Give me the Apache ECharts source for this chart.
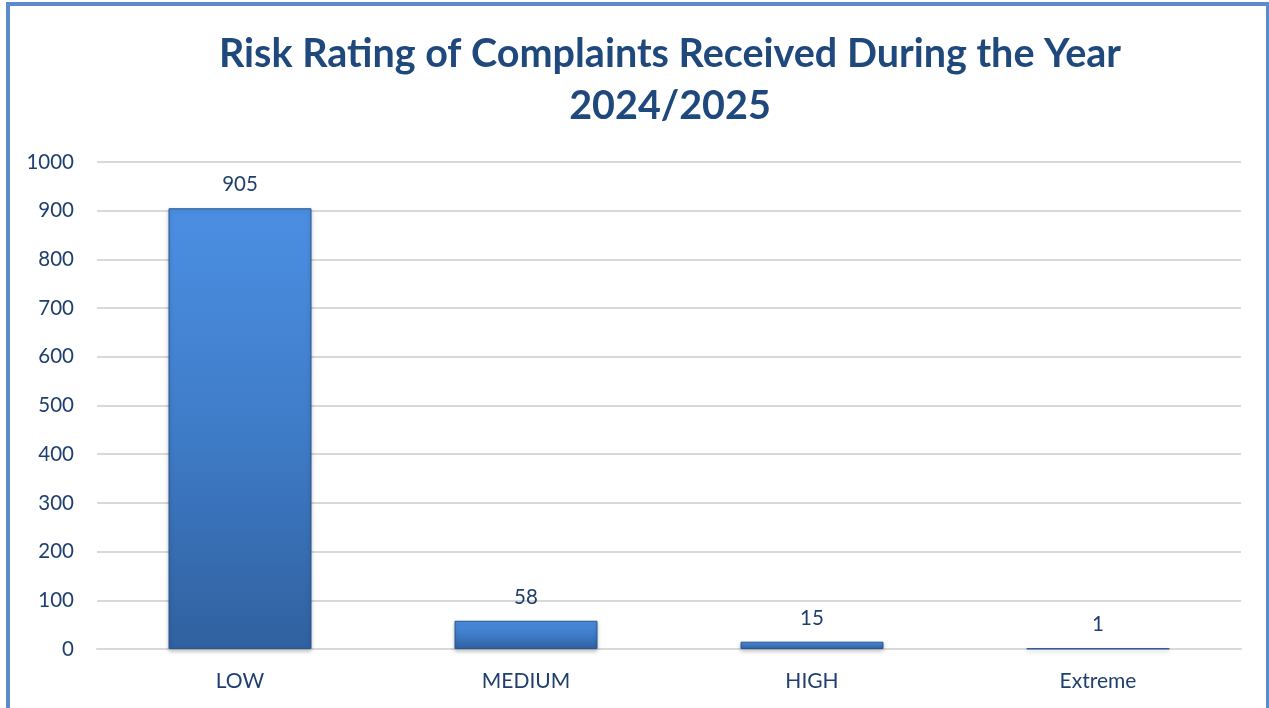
<!DOCTYPE html>
<html>
<head>
<meta charset="utf-8">
<script src="https://cdn.jsdelivr.net/npm/echarts@6/dist/echarts.min.js"></script>
<style>
  html, body { margin: 0; padding: 0; background: #fff; }
  #frame { position: absolute; left: 6px; top: 2px; width: 1256px; height: 720px; border: 4px solid #5b8bc8; }
  #chart { position: absolute; left: 0; top: 0; width: 1269px; height: 708px; }
</style>
</head>
<body>
<div id="frame"></div>
<div id="chart"></div>
<script>
var titleText = 'Risk Rating of Complaints Received During the Year\n2024/2025'
var categories = ['LOW', 'MEDIUM', 'HIGH', 'Extreme']
var complaints = [905, 58, 15, 1]

var chart = echarts.init(document.getElementById('chart'))
var textColor = '#1f3f6e'

chart.setOption({
  backgroundColor: 'transparent',
  // title sits a bit right of the page centre, as in the original
  graphic: [{
    type: 'text',
    x: 670,
    y: 28,
    style: {
      text: titleText,
      align: 'center',
      verticalAlign: 'top',
      fontFamily: 'Lato',
      fontSize: 39.5,
      fontWeight: 'bold',
      fill: '#1f497d',
      lineHeight: 52
    }
  }],
  grid: {
    left: 97,
    right: 28,
    top: 162,
    bottom: 59
  },
  xAxis: {
    type: 'category',
    data: categories,
    axisTick: { show: false },
    axisLine: { lineStyle: { color: '#d9d9d9', width: 2 } },
    axisLabel: {
      fontFamily: 'Lato',
      fontSize: 21,
      color: textColor,
      margin: 22
    }
  },
  yAxis: {
    type: 'value',
    min: 0,
    max: 1000,
    interval: 100,
    axisLine: { show: false },
    axisTick: { show: false },
    splitLine: { lineStyle: { color: '#d9d9d9', width: 2 } },
    axisLabel: {
      fontFamily: 'Lato',
      fontSize: 20.5,
      color: textColor,
      margin: 23,
      formatter: function(v) {
        return String(v)
      }
    }
  },
  series: [{
    type: 'bar',
    data: complaints,
    barWidth: '50%',
    itemStyle: {
      color: new echarts.graphic.LinearGradient(0, 0, 0, 1, [
        { offset: 0, color: '#4b8fe2' },
        { offset: 0.5, color: '#3f7cc8' },
        { offset: 1, color: '#30619f' }
      ]),
      borderColor: '#2a5590',
      borderWidth: 1,
      shadowColor: 'rgba(0,0,0,0.25)',
      shadowBlur: 4,
      shadowOffsetY: 2
    },
    label: {
      show: true,
      position: 'top',
      distance: 13,
      fontFamily: 'Lato',
      fontSize: 20.5,
      color: textColor
    }
  }]
})
</script>
</body>
</html>
